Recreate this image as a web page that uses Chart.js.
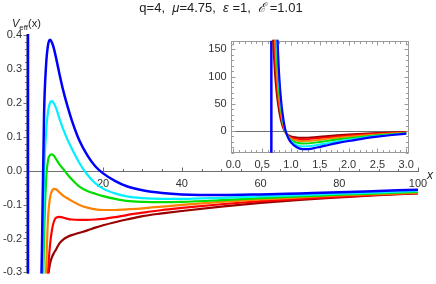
<!DOCTYPE html>
<html><head><meta charset="utf-8">
<script src="https://cdn.jsdelivr.net/npm/chart.js@4.4.1/dist/chart.umd.min.js"></script>
<style>
body{margin:0;background:#fff;}
#wrap{position:relative;width:436px;height:284px;overflow:hidden;font-family:"Liberation Sans",Arial,sans-serif;color:#222;}
#main{position:absolute;left:0;top:0;}
#insetBox{position:absolute;left:190px;top:30px;width:230px;height:142px;}
#inset{position:absolute;left:0;top:0;}
#title{position:absolute;left:0;width:442px;top:0px;text-align:center;font-size:13px;line-height:15px;white-space:nowrap;}
#ylab{position:absolute;left:12px;top:17px;font-size:11px;line-height:13px;white-space:nowrap;}
#ylab sub{font-size:8px;vertical-align:-3px;line-height:0;}
#xlab{position:absolute;left:427px;top:168px;font-size:12px;font-style:italic;}
</style></head>
<body>
<div id="wrap">
  <canvas id="main" width="436" height="284"></canvas>
  <div id="insetBox"><canvas id="inset" width="230" height="142"></canvas></div>
  <div id="title">q=4,&nbsp; <i>μ</i>=4.75,&nbsp; <i>ε</i> =1,&nbsp; <i>ℰ</i> =1.01</div>
  <div id="ylab"><i>V</i><sub>eff</sub>(x)</div>
  <div id="xlab">x</div>
</div>
<script>
// ---------- data ----------
const seriesColors = ['#0000ff', '#00f0ff', '#00dd00', '#ff8000', '#ff0000', '#990000'];
const horizonX = 0.66;

// near-horizon part (inset)
const xNear = [0.68, 0.70, 0.72, 0.74, 0.76, 0.78, 0.80, 0.83, 0.86, 0.90, 0.95, 1.0, 1.1, 1.2, 1.3, 1.45, 1.6, 1.8, 2.0, 2.25, 2.5, 2.75, 3.0];
const blueNear    = [2000, 900, 500, 300, 195, 135, 95, 55, 28, 3, -12, -21, -30, -33.5, -33.5, -30.5, -27, -22.5, -18.5, -14, -10.5, -7.5, -5];
const cyanNear    = [1000, 600, 350, 225, 155, 110, 80, 47, 23, 1.5, -11.5, -19, -26, -28.3, -28.2, -25.8, -23, -19.3, -16, -12.3, -9.3, -6.8, -4.7];
const greenNear   = [600, 380, 240, 170, 125, 90, 66, 39, 19, 0.5, -10.5, -16.5, -21.5, -23, -22.8, -21, -18.8, -15.8, -13.2, -10.4, -7.9, -5.9, -4.2];
const orangeNear  = [400, 260, 180, 132, 98, 72, 53, 31, 14.5, -0.5, -9.5, -14, -17.5, -18.5, -18.3, -16.8, -15, -12.6, -10.5, -8.2, -6.2, -4.6, -3.3];
const redNear     = [260, 190, 140, 104, 78, 58, 43, 25, 11, -1.5, -8.5, -12, -14.5, -15.2, -15, -13.7, -12.2, -10.2, -8.4, -6.5, -4.9, -3.6, -2.6];
const darkredNear = [190, 145, 110, 83, 62, 46, 33, 18, 7, -2, -7.5, -10, -12, -12.5, -12.2, -11, -9.7, -8, -6.5, -5, -3.7, -2.7, -2];

// far part (main plot)
const xFar = [3.5, 4, 4.5, 5, 5.5, 6, 6.5, 7, 7.5, 8, 9, 10, 11, 12, 14, 16, 18, 20, 23, 26, 30, 35, 40, 50, 60, 70, 80, 90, 100];
const blueFar    = [-2.0, -0.65, -0.2, 0.17, 0.31, 0.37, 0.386, 0.378, 0.36, 0.335, 0.28, 0.23, 0.188, 0.15, 0.088, 0.045, 0.013, -0.008, -0.03, -0.046, -0.058, -0.066, -0.07, -0.072, -0.07, -0.067, -0.064, -0.06, -0.056];
const cyanFar    = [-2.4, -0.95, -0.42, -0.02, 0.11, 0.175, 0.2, 0.205, 0.198, 0.186, 0.15, 0.118, 0.09, 0.066, 0.022, -0.012, -0.037, -0.053, -0.067, -0.076, -0.081, -0.083, -0.083, -0.08, -0.076, -0.072, -0.068, -0.064, -0.06];
const greenFar   = [-2.6, -1.1, -0.5, -0.2, -0.03, 0.03, 0.046, 0.048, 0.044, 0.035, 0.017, 0.003, -0.012, -0.025, -0.047, -0.06, -0.068, -0.075, -0.083, -0.089, -0.092, -0.093, -0.092, -0.087, -0.081, -0.076, -0.071, -0.067, -0.063];
const orangeFar  = [-2.8, -1.3, -0.75, -0.45, -0.3, -0.14, -0.08, -0.06, -0.054, -0.055, -0.065, -0.075, -0.082, -0.089, -0.101, -0.109, -0.114, -0.116, -0.116, -0.114, -0.111, -0.106, -0.101, -0.092, -0.085, -0.079, -0.073, -0.069, -0.065];
const redFar     = [-3.0, -1.5, -0.9, -0.6, -0.42, -0.3, -0.22, -0.175, -0.15, -0.139, -0.136, -0.139, -0.142, -0.144, -0.145, -0.145, -0.144, -0.142, -0.137, -0.131, -0.124, -0.116, -0.11, -0.099, -0.09, -0.083, -0.077, -0.071, -0.066];
const darkredFar = [-3.2, -1.7, -1.0, -0.65, -0.45, -0.32, -0.275, -0.255, -0.243, -0.233, -0.213, -0.202, -0.195, -0.19, -0.183, -0.176, -0.168, -0.161, -0.152, -0.144, -0.134, -0.126, -0.119, -0.106, -0.095, -0.086, -0.079, -0.072, -0.067];

// tick labels
const xMainMajor = [20, 40, 60, 80, 100];
const xMainLabels = ['20', '40', '60', '80', '100'];
const yMainMajor = [-0.3, -0.2, -0.1, 0, 0.1, 0.2, 0.3, 0.4];
const yMainLabels = ['-0.3', '-0.2', '-0.1', '0.0', '0.1', '0.2', '0.3', '0.4'];
const xInsetMajor = [0, 0.5, 1, 1.5, 2, 2.5, 3];
const xInsetLabels = ['0.0', '0.5', '1.0', '1.5', '2.0', '2.5', '3.0'];
const yInsetMajor = [0, 50, 100, 150];
const yInsetLabels = ['0', '50', '100', '150'];

// ---------- helpers ----------
const pts = (xs, ys) => xs.map((x, i) => ({x: x, y: ys[i]}));
const nearSets = [blueNear, cyanNear, greenNear, orangeNear, redNear, darkredNear];
const farSets = [blueFar, cyanFar, greenFar, orangeFar, redFar, darkredFar];

Chart.defaults.font.family = '"Liberation Sans", Arial, sans-serif';
Chart.defaults.font.size = 11;
Chart.defaults.color = '#333';

function labelFor(majors, labels) {
  return function (v) {
    const i = majors.findIndex(m => Math.abs(m - v) < 1e-9);
    return i >= 0 ? labels[i] : '';
  };
}
function setTicks(majors) {
  return function (scale) { scale.ticks = majors.map(v => ({value: v})); };
}

const mmaTicks = {
  id: 'mmaTicks',
  beforeDatasetsDraw(chart, args, o) {
    const ctx = chart.ctx, a = chart.chartArea, xs = chart.scales.x, ys = chart.scales.y;
    ctx.save();
    ctx.lineWidth = 1;
    ctx.strokeStyle = o.color;
    const line = (x1, y1, x2, y2) => { ctx.beginPath(); ctx.moveTo(x1, y1); ctx.lineTo(x2, y2); ctx.stroke(); };
    const each = (scale, step, major, fn) => {
      const k0 = Math.ceil(scale.min / step - 1e-9), k1 = Math.floor(scale.max / step + 1e-9);
      for (let k = k0; k <= k1; k++) {
        const v = k * step;
        const isMaj = Math.abs(v / major - Math.round(v / major)) < 1e-6;
        fn(Math.round(scale.getPixelForValue(v)) + 0.5, isMaj ? 4 : 2.5);
      }
    };
    if (o.mode === 'axes') {
      const y0 = Math.round(ys.getPixelForValue(0)) + 0.5;
      const xl = Math.round(a.left) + 0.5;
      line(a.left, y0, a.right + 1, y0);
      line(xl, a.top, xl, a.bottom);
      each(xs, o.xStep, o.xMajor, (p, L) => { if (p > xl + 1) line(p, y0, p, y0 - L); });
      each(ys, o.yStep, o.yMajor, (p, L) => line(xl, p, xl - L, p));
    } else {
      const l = Math.round(a.left) + 0.5, r = Math.round(a.right) - 0.5, t = Math.round(a.top) + 0.5, b = Math.round(a.bottom) - 0.5;
      const y0 = Math.round(ys.getPixelForValue(0)) + 0.5;
      ctx.strokeStyle = o.zeroColor;
      line(l, y0, r, y0);
      ctx.strokeStyle = o.color;
      ctx.strokeRect(l, t, r - l, b - t);
      each(xs, o.xStep, o.xMajor, (p, L) => { line(p, b, p, b - L); line(p, t, p, t + L); });
      each(ys, o.yStep, o.yMajor, (p, L) => { line(l, p, l + L, p); line(r, p, r - L, p); });
    }
    ctx.restore();
  }
};

function makeSets(includeFar, width) {
  const sets = seriesColors.map((c, i) => ({
    data: includeFar ? pts(xNear, nearSets[i]).concat(pts(xFar, farSets[i])) : pts(xNear, nearSets[i]),
    borderColor: c, borderWidth: i === 0 ? width + 0.3 : width,
    pointRadius: 0, fill: false, cubicInterpolationMode: 'monotone', clip: 1
  }));
  sets.push({
    data: [{x: horizonX, y: -1e4}, {x: horizonX, y: 1e4}],
    borderColor: seriesColors[0], borderWidth: width + 0.6, pointRadius: 0, clip: 0
  });
  return sets;
}

const noGrid = {display: false, drawTicks: false};

// ---------- main chart ----------
new Chart(document.getElementById('main'), {
  type: 'line',
  data: {datasets: makeSets(true, 2.2)},
  plugins: [mmaTicks],
  options: {
    responsive: false, animation: false, devicePixelRatio: 1,
    layout: {padding: {left: 0, top: 35, right: 18, bottom: 6}},
    plugins: {legend: {display: false}, tooltip: {enabled: false},
      mmaTicks: {mode: 'axes', color: '#6e6e6e', xStep: 5, xMajor: 20, yStep: 0.02, yMajor: 0.1}},
    scales: {
      x: {type: 'linear', min: horizonX, max: 100, position: {y: 0},
        grid: noGrid, border: {display: false},
        afterBuildTicks: setTicks(xMainMajor),
        ticks: {autoSkip: false, maxRotation: 0, padding: 7, callback: labelFor(xMainMajor, xMainLabels)}},
      y: {type: 'linear', min: -0.3, max: 0.4, position: 'left',
        grid: noGrid, border: {display: false},
        afterBuildTicks: setTicks(yMainMajor),
        afterFit: s => { s.width = 27; },
        ticks: {autoSkip: false, padding: 5, callback: labelFor(yMainMajor, yMainLabels)}}
    }
  }
});

// ---------- inset chart ----------
new Chart(document.getElementById('inset'), {
  type: 'line',
  data: {datasets: makeSets(false, 1.9)},
  plugins: [mmaTicks],
  options: {
    responsive: false, animation: false, devicePixelRatio: 1,
    layout: {padding: {left: 0, top: 10.7, right: 7.3, bottom: 0}},
    plugins: {legend: {display: false}, tooltip: {enabled: false},
      mmaTicks: {mode: 'frame', color: '#9a9a9a', zeroColor: '#6e6e6e', xStep: 0.1, xMajor: 0.5, yStep: 10, yMajor: 50}},
    scales: {
      x: {type: 'linear', min: -0.045, max: 3.045, position: 'bottom',
        grid: noGrid, border: {display: false},
        afterBuildTicks: setTicks(xInsetMajor),
        afterFit: s => { s.height = 19.3; },
        ticks: {autoSkip: false, maxRotation: 0, padding: 6, callback: labelFor(xInsetMajor, xInsetLabels)}},
      y: {type: 'linear', min: -40, max: 166, position: 'left',
        grid: noGrid, border: {display: false},
        afterBuildTicks: setTicks(yInsetMajor),
        afterFit: s => { s.width = 40.7; },
        ticks: {autoSkip: false, padding: 4, callback: labelFor(yInsetMajor, yInsetLabels)}}
    }
  }
});
</script>
</body></html>
